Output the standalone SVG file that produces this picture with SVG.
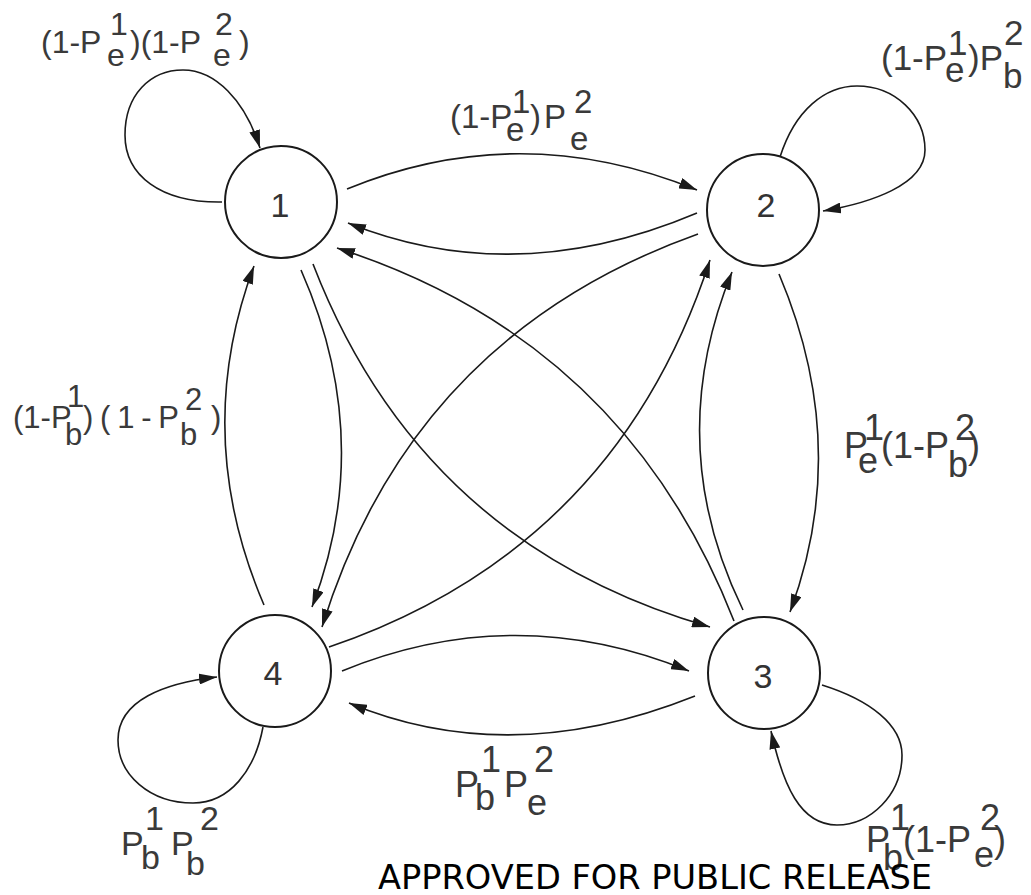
<svg xmlns="http://www.w3.org/2000/svg" width="1031" height="895" viewBox="0 0 1031 895">
<style>
.bg{fill:#ffffff}
.node{fill:#ffffff;stroke:#1a1a1a;stroke-width:2}
.num{font-family:"Liberation Sans",Arial,sans-serif;font-size:34px;fill:#333333;text-anchor:middle}
.edge{fill:none;stroke:#1a1a1a;stroke-width:1.6;marker-end:url(#ah)}
.lbl{font-family:"Liberation Sans",Arial,sans-serif;fill:#3a3a3a}
.rel{font-family:"DejaVu Sans",Verdana,sans-serif;font-size:33px;fill:#000000}
</style>
<defs>
<marker id="ah" markerWidth="18" markerHeight="11" refX="18" refY="5.5" orient="auto" markerUnits="userSpaceOnUse">
<path d="M0,0 L18,5.5 L0,11 z" fill="#1a1a1a"/>
</marker>
</defs>
<rect class="bg" x="0" y="0" width="1031" height="895"/>
<g id="connectors">
<path class="edge" d="M347,189 Q520,118 697,190"/>
<path class="edge" d="M697,213 Q515,290 348,223"/>
<path class="edge" d="M301,270 Q376,440 312,607"/>
<path class="edge" d="M264,605 Q191,435 254,266"/>
<path class="edge" d="M779,274 Q852,446 790,612"/>
<path class="edge" d="M743,610 Q662,444 732,272"/>
<path class="edge" d="M313,264 Q421,544 710,627"/>
<path class="edge" d="M734,621 Q624,340 337,248"/>
<path class="edge" d="M698,234 Q412,336 322,627"/>
<path class="edge" d="M329,647 Q616,549 710,260"/>
<path class="edge" d="M342,671 Q515,600 689,671"/>
<path class="edge" d="M695,696 Q510,770 349,703"/>
<path class="edge" d="M222,202 C160,203 125,175 125,135 C125,95 150,70 183,70 C215,70 245,100 260,148"/>
<path class="edge" d="M780,157 C795,110 825,86 857,86 C895,86 925,115 925,150 C925,185 870,203 823,211"/>
<path class="edge" d="M263,727 C255,770 230,803 193,803 C150,803 118,775 118,740 C118,700 165,683 217,677"/>
<path class="edge" d="M822,685 C870,700 902,725 902,755 C902,795 870,825 837,825 C800,825 783,785 771,731"/>
</g>
<g id="node1"><circle class="node" cx="281" cy="202" r="56"/><text class="num" x="280" y="217">1</text></g>
<g id="node2"><circle class="node" cx="763" cy="210" r="56"/><text class="num" x="766" y="217">2</text></g>
<g id="node3"><circle class="node" cx="764" cy="673" r="56"/><text class="num" x="763" y="688">3</text></g>
<g id="node4"><circle class="node" cx="275" cy="671" r="56"/><text class="num" x="273" y="685">4</text></g>
<g id="labels">
<text class="lbl" style="font-size:32px"><tspan x="41" y="53">(1-P</tspan><tspan x="110" y="35">1</tspan><tspan x="107" y="66">e</tspan><tspan x="130" y="53">)(1-P</tspan><tspan x="215" y="35">2</tspan><tspan x="213" y="66">e</tspan><tspan x="239" y="53">)</tspan></text>
<text class="lbl" style="font-size:35px"><tspan x="881" y="70">(1-P</tspan><tspan x="948" y="55">1</tspan><tspan x="945" y="82">e</tspan><tspan x="968" y="70">)P</tspan><tspan x="1004" y="45">2</tspan><tspan x="1003" y="88">b</tspan></text>
<text class="lbl" style="font-size:33px"><tspan x="450" y="128">(1-P</tspan><tspan x="512" y="113">1</tspan><tspan x="506" y="141">e</tspan><tspan x="530" y="128">)</tspan><tspan x="544" y="128">P</tspan><tspan x="574" y="113">2</tspan><tspan x="570" y="150">e</tspan></text>
<text class="lbl" style="font-size:31px"><tspan x="13" y="428">(1-P</tspan><tspan x="67" y="407">1</tspan><tspan x="65" y="445">b</tspan><tspan x="83" y="428" textLength="96" lengthAdjust="spacing">)(1-P</tspan><tspan x="185" y="410">2</tspan><tspan x="180" y="445">b</tspan><tspan x="211" y="428">)</tspan></text>
<text class="lbl" style="font-size:36px"><tspan x="844" y="458">P</tspan><tspan x="864" y="440">1</tspan><tspan x="858" y="473">e</tspan><tspan x="881" y="458">(1-P</tspan><tspan x="955" y="440">2</tspan><tspan x="948" y="477">b</tspan><tspan x="968" y="458">)</tspan></text>
<text class="lbl" style="font-size:36px"><tspan x="866" y="852">P</tspan><tspan x="890" y="830">1</tspan><tspan x="883" y="870">b</tspan><tspan x="903" y="852">(1-P</tspan><tspan x="980" y="830">2</tspan><tspan x="974" y="867">e</tspan><tspan x="994" y="852">)</tspan></text>
<text class="lbl" style="font-size:34px"><tspan x="121" y="855">P</tspan><tspan x="145" y="830">1</tspan><tspan x="141" y="869">b</tspan><tspan x="171" y="855">P</tspan><tspan x="200" y="830">2</tspan><tspan x="186" y="875">b</tspan></text>
<text class="lbl" style="font-size:36px"><tspan x="455" y="797">P</tspan><tspan x="481" y="772">1</tspan><tspan x="475" y="810">b</tspan><tspan x="504" y="797">P</tspan><tspan x="534" y="772">2</tspan><tspan x="527" y="815">e</tspan></text>
</g>
<text class="rel" x="378" y="889" textLength="554" lengthAdjust="spacingAndGlyphs">APPROVED FOR PUBLIC RELEASE</text>
</svg>
